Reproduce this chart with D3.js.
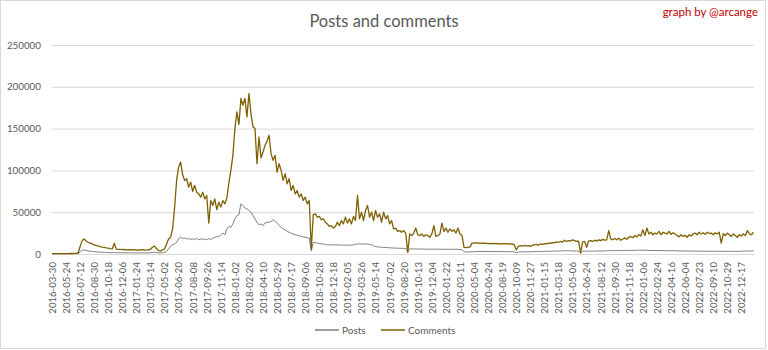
<!DOCTYPE html>
<html><head><meta charset="utf-8">
<script src="https://cdn.jsdelivr.net/npm/d3@7"></script>
<style>html,body{margin:0;padding:0;background:#fff;}svg{display:block;}</style>
</head><body><svg id="c" width="768" height="350"></svg>
<script>
const tickLabels = ["2016-03-30","2016-05-24","2016-07-12","2016-08-30","2016-10-18","2016-12-06","2017-01-24","2017-03-14","2017-05-02","2017-06-20","2017-08-08","2017-09-26","2017-11-14","2018-01-02","2018-02-20","2018-04-10","2018-05-29","2018-07-17","2018-09-06","2018-10-28","2018-12-18","2019-02-05","2019-03-26","2019-05-14","2019-07-02","2019-08-20","2019-10-13","2019-12-04","2020-01-22","2020-03-11","2020-05-04","2020-06-24","2020-08-19","2020-10-09","2020-11-27","2021-01-15","2021-03-18","2021-05-06","2021-06-24","2021-08-12","2021-09-30","2021-11-18","2022-01-06","2022-02-24","2022-04-16","2022-06-04","2022-07-23","2022-09-10","2022-10-29","2022-12-17"];
const yTicks = [0,50000,100000,150000,200000,250000];
const seriesNames = ["Posts","Comments"];
const totalDays = 2446;      // number of daily categories on the axis
const labelEvery = 49;       // one axis label every 49 categories
const sampleEvery = 7;       // one stored reading every 7 categories

const comments = [
400,400,450,450,500,500,500,500,550,600,
600,700,800,1200,9000,16000,18000,15500,14000,13000,
12000,11000,10200,9500,8800,8200,7800,7300,6900,6500,
6200,13000,5800,5500,5600,5200,5400,5000,5300,5100,
4900,5200,4700,5000,4800,5300,4600,5000,4900,5800,
8000,9500,6500,4000,3500,5000,6000,12000,18000,20000,
30000,55000,88000,104000,110000,95000,88000,90000,80000,86000,
75000,82000,74000,72000,68000,74000,66000,70000,37000,64000,
58000,66000,53000,62000,56000,64000,60000,67000,85000,100000,
118000,150000,170000,155000,186000,178000,186000,164000,192000,168000,
152000,150000,108000,140000,115000,122000,130000,135000,142000,120000,
112000,118000,98000,108000,100000,88000,96000,84000,90000,76000,
82000,72000,76000,68000,72000,64000,68000,60000,64000,6000,
47000,48000,44000,45000,41000,42000,38000,36000,33000,34000,
31000,33000,38000,34000,40000,36000,44000,37000,42000,36000,
45000,40000,70000,42000,50000,40000,52000,58000,44000,50000,
40000,52000,44000,48000,38000,50000,42000,46000,36000,40000,
30000,31000,27000,28000,26000,28000,25000,2000,24000,22000,
25000,31000,23000,22000,24000,21000,23000,22000,20000,24000,
34000,21000,22000,24000,37000,27000,31000,26000,30000,27000,
29000,25000,31000,24000,22000,8000,7500,8000,8500,13000,
13000,13500,12800,13200,12600,13000,12700,12400,12800,12500,
12300,12600,12000,12400,12200,12500,12000,12300,11800,12000,
11000,5000,9000,10000,9500,10200,9600,10000,9200,10400,
10800,11500,10500,12000,11600,12500,12200,13000,12600,13500,
13200,14500,13800,15000,14200,16500,15000,16000,15500,17000,
16000,15000,15500,1500,14500,15000,8000,15500,16000,15000,
16500,15500,17000,16000,17500,16500,17000,28000,18000,17000,
18500,17000,19000,16500,18000,19500,17500,20000,21000,19500,
22000,20500,23000,21500,29000,22000,31000,24000,26000,23000,
25000,24000,27000,23000,26000,25000,24000,27000,23500,25500,
24000,22000,20500,23000,21000,22500,20000,23000,21500,24000,
25000,23000,26000,24000,25500,23500,26000,24500,25000,23000,
25500,24000,26000,13000,24500,22000,25000,23000,21000,24000,
22000,20000,23000,21500,24000,22000,28000,24000,23000,26000];

const posts = [
200,200,250,250,300,300,300,300,350,350,
350,400,450,600,2500,4500,5000,4200,3800,3400,
3000,2800,2600,2400,2200,2100,2000,1900,1800,1700,
1600,1700,1600,1500,1500,1400,1500,1400,1400,1300,
1300,1400,1300,1300,1400,1300,1300,1400,1300,1500,
1800,2000,1600,1300,1200,1500,2000,3000,6000,9000,
11000,12000,14000,18000,20500,18500,19000,18000,18500,17500,
18000,17500,18500,17000,18000,17500,18000,17000,18500,17500,
19000,20000,21000,20500,23000,25000,23000,30000,33000,32000,
36000,42000,46000,47000,60000,58000,55000,54000,52000,50000,
46000,42000,38000,35000,36000,34000,37000,38000,38000,39000,
41000,39000,37000,34000,32000,30000,29000,27000,26000,25000,
24000,23000,22500,22000,21000,20500,20000,19500,19000,3500,
14000,13500,13000,12500,12000,12000,11500,11000,11000,10800,
11000,10800,11000,10700,10800,10600,10800,10500,10600,10500,
11000,11500,12000,12000,12000,11800,12000,11800,11500,11000,
9500,9000,8500,8200,8000,7800,7800,7600,7500,7200,
7200,7000,7000,6800,6800,6600,6500,3000,6300,6100,
6100,6000,6000,5900,5900,5800,5800,5800,5700,5700,
5700,5800,5700,5600,5700,5700,5600,5700,5600,5600,
5600,5700,5500,5400,5300,2600,2500,2400,2500,2600,
2800,2900,3000,2900,3000,3000,3100,3000,3000,2900,
2900,3000,2900,3000,2900,2800,2900,2800,2700,2800,
2600,1500,2300,2500,2600,2500,2600,2700,2600,2700,
2800,2900,3000,2900,3000,3100,3200,3300,3200,3400,
3500,3600,3500,3700,3800,4000,3900,4000,3800,3700,
3600,3500,3500,1000,3400,3500,3300,3400,3500,3300,
3400,3500,3600,3500,3700,3800,3900,4000,4200,4100,
4000,4100,4200,4000,4300,4200,4100,4500,4300,4200,
4400,4600,4500,4400,4700,4500,4400,4300,4200,4300,
4200,4100,4200,4000,4100,3900,4000,3900,3800,3900,
3800,3700,3600,3700,3600,3500,3600,3500,3400,3500,
3400,3500,3400,3300,3400,3300,3400,3300,3200,3300,
3200,3300,3200,3100,3200,3100,3200,3100,3200,3300,
3200,3100,3200,3300,3400,3500,3600,3500,3700,3800];

const colors = {Posts:"#7f7f7f", Comments:"#7f6000"};
const font = "Lato, 'Open Sans', sans-serif";
const svg = d3.select("#c");
const W = 768, H = 350;
const m = {left:52, right:14, top:45, bottom:96};

svg.append("rect").attr("x",0.5).attr("y",0.5).attr("width",W-3).attr("height",H-2)
  .attr("fill","#fff").attr("stroke","#d9d9d9");

const x = d3.scaleLinear().domain([0,totalDays-1]).range([m.left, W-m.right]);
const y = d3.scaleLinear().domain([0,250000]).range([H-m.bottom, m.top]);

// gridlines + y labels
const yAxis = d3.axisLeft(y).tickValues(yTicks).tickSize(-(W-m.right-m.left)).tickFormat(d3.format("d")).tickPadding(11);
const gy = svg.append("g").attr("transform",`translate(${m.left},0)`).call(yAxis);
gy.select(".domain").remove();
gy.selectAll(".tick line").attr("stroke","#d9d9d9").attr("stroke-width",1);
gy.selectAll(".tick text").attr("fill","#595959").style("font-family",font).style("font-size","9.8px");

// x axis labels
const xAxis = d3.axisBottom(x).tickValues(tickLabels.map((d,i)=>i*labelEvery)).tickSize(0).tickFormat((d,i)=>tickLabels[i]);
const gx = svg.append("g").attr("transform",`translate(0,${H-m.bottom})`).call(xAxis);
gx.select(".domain").attr("stroke","#d9d9d9");
gx.selectAll(".tick text").attr("fill","#595959").style("font-family",font).style("font-size","9.6px")
  .attr("text-anchor","end").attr("transform","rotate(-90)").attr("x",-8).attr("y",0).attr("dy","0.35em");

// lines
const line = d3.line().x((d,i)=>x(i*sampleEvery)).y(d=>y(d));
[["Posts",posts,1],["Comments",comments,1.3]].forEach(([name,vals,w])=>{
  svg.append("path").datum(vals).attr("d",line).attr("fill","none")
    .attr("stroke",colors[name]).attr("stroke-width",w).attr("stroke-linejoin","round");
});

// title + credit
svg.append("text").attr("x",384).attr("y",27).attr("text-anchor","middle")
  .attr("fill","#595959").style("font-family",font).style("font-size","16.5px").text("Posts and comments");
svg.append("text").attr("x",758).attr("y",16).attr("text-anchor","end")
  .attr("fill","#c00000").style("font-family",font).style("font-size","11.5px").text("graph by @arcange");

// legend
const leg = svg.append("g").style("font-family",font).style("font-size","10px");
const legPos = [{name:"Posts",x0:315},{name:"Comments",x0:381}];
legPos.forEach(p=>{
  leg.append("line").attr("x1",p.x0).attr("x2",p.x0+24).attr("y1",330).attr("y2",330)
    .attr("stroke",colors[p.name]).attr("stroke-width",1.5);
  leg.append("text").attr("x",p.x0+27).attr("y",330).attr("dy","0.35em").attr("fill","#595959").text(p.name);
});
</script></body></html>
